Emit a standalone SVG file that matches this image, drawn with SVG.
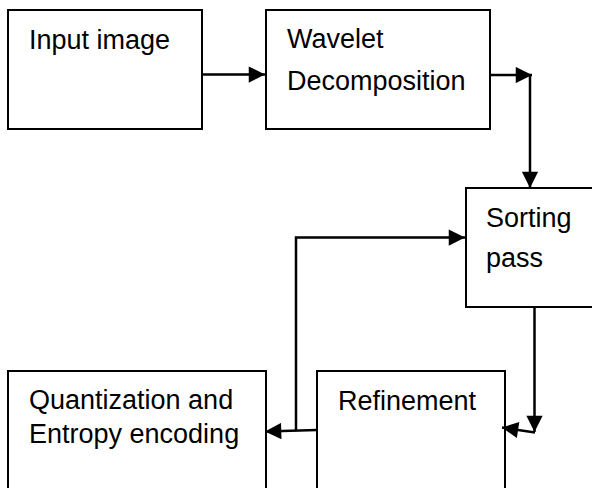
<svg xmlns="http://www.w3.org/2000/svg" width="592" height="488" viewBox="0 0 592 488">
  <style>
    .box { fill: #fff; stroke: #000; stroke-width: 2; }
    .lbl { font-family: "Liberation Sans", Arial, sans-serif; font-size: 27px; fill: #000; }
    .conn { fill: none; stroke: #000; stroke-width: 2.5; }
  </style>
  <defs>
    <marker id="ah" viewBox="0 0 10 10" refX="10" refY="5" markerWidth="7.5" markerHeight="6.5" markerUnits="strokeWidth" orient="auto">
      <path d="M0,0 L10,5 L0,10 Z" fill="#000"/>
    </marker>
  </defs>
  <rect width="592" height="488" fill="#fff"/>
  <g id="input">
    <rect class="box" x="8" y="10" width="194" height="119"/>
    <text class="lbl" x="29" y="49">Input image</text>
  </g>
  <g id="wavelet">
    <rect class="box" x="266" y="10" width="224" height="119"/>
    <text class="lbl" x="287" y="48">Wavelet</text>
    <text class="lbl" x="287" y="90">Decomposition</text>
  </g>
  <g id="sorting">
    <rect class="box" x="466" y="188" width="140" height="119"/>
    <text class="lbl" x="486" y="227">Sorting</text>
    <text class="lbl" x="486" y="267">pass</text>
  </g>
  <g id="refinement">
    <rect class="box" x="317" y="371" width="188" height="130"/>
    <text class="lbl" x="338" y="410">Refinement</text>
  </g>
  <g id="quantization">
    <rect class="box" x="8" y="371" width="258" height="130"/>
    <text class="lbl" x="29" y="409">Quantization and</text>
    <text class="lbl" x="29" y="443">Entropy encoding</text>
  </g>
  <g id="connectors">
    <path class="conn" d="M202,74.5 L265,74.5" marker-end="url(#ah)"/>
    <path class="conn" d="M490,75 L532,75" marker-end="url(#ah)"/>
    <path class="conn" d="M530,75 L530,188" marker-end="url(#ah)"/>
    <path class="conn" d="M534.5,307 L534.5,432" marker-end="url(#ah)"/>
    <path class="conn" d="M535,432.5 L502,427.5" marker-end="url(#ah)"/>
    <path class="conn" d="M317,430 L265,431.5" marker-end="url(#ah)"/>
    <path class="conn" d="M296,430.5 L296,237.5 L465,237.5" marker-end="url(#ah)"/>
  </g>
</svg>
